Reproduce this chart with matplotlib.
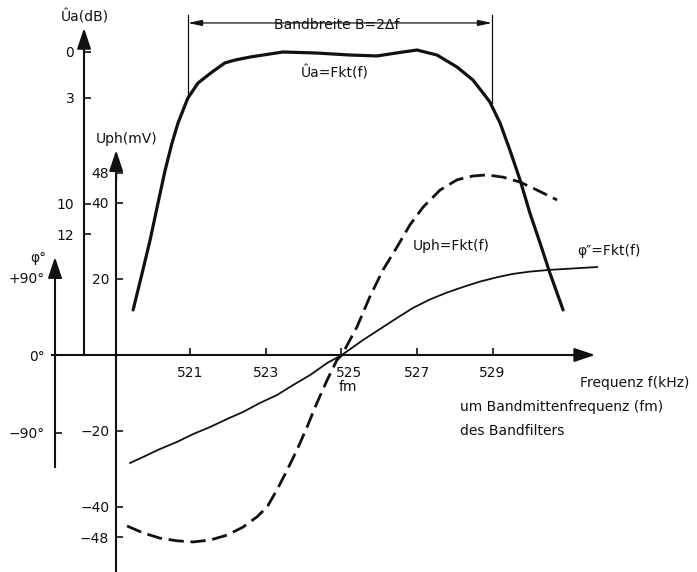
import matplotlib
matplotlib.use("Agg")
import matplotlib.pyplot as plt

# Ausgangsspannung Ua in dB (Daempfung gegenueber Maximum)
ua_f = [519.48, 519.72, 519.93, 520.14, 520.33, 520.51, 520.67, 520.93, 521.20,
        521.57, 521.91, 522.18, 522.58, 523.45, 524.35, 525.23, 525.94, 526.63,
        527.00, 527.53, 528.06, 528.48, 528.75, 528.93, 529.20, 529.46, 529.73,
        529.99, 530.26, 530.52, 530.87]
ua_db = [16.97, 14.54, 12.37, 9.93, 7.76, 5.99, 4.67, 3.03, 2.04,
         1.32, 0.72, 0.53, 0.33, 0.0, 0.07, 0.2, 0.26, 0.0,
         -0.13, 0.2, 0.99, 1.84, 2.70, 3.29, 4.67, 6.45, 8.42,
         10.59, 12.57, 14.54, 16.97]

# Phasendiskriminator-Spannung Uph in mV
uph_f = [519.32, 519.74, 520.19, 520.64, 521.07, 521.52, 521.97, 522.39, 522.76,
         523.03, 523.29, 523.56, 523.82, 524.09, 524.35, 524.62, 524.88, 525.01,
         525.41, 525.75, 526.10, 526.47, 526.81, 527.16, 527.61, 528.06, 528.48,
         528.85, 529.28, 529.73, 530.18, 530.71]
uph_mv = [-45.0, -46.8, -48.2, -48.9, -49.2, -48.7, -47.4, -45.3, -42.6,
          -40.0, -35.5, -30.3, -25.0, -18.9, -12.6, -6.6, -1.3, 0.0,
          7.4, 15.3, 22.4, 28.4, 34.2, 38.9, 43.4, 46.1, 47.1,
          47.4, 46.8, 45.5, 43.4, 40.8]

# Phasenwinkel phi in Grad
phi_f = [519.40, 519.74, 520.19, 520.64, 521.07, 521.52, 521.97, 522.39, 522.84,
         523.29, 523.72, 524.17, 524.62, 525.01, 525.57, 526.02, 526.47, 526.89,
         527.34, 527.79, 528.22, 528.67, 529.12, 529.54, 530.00, 530.52, 531.32, 531.77]
phi_deg = [-125.4, -118.5, -109.2, -101.0, -91.8, -83.6, -74.3, -66.2, -55.7,
           -46.5, -34.8, -23.2, -9.3, 0.0, 17.4, 30.2, 43.0, 54.6,
           64.5, 72.5, 79.0, 85.3, 90.3, 94.2, 96.9, 98.9, 101.0, 102.2]

f_ticks = [521, 523, 525, 527, 529]
mv_ticks = [-48, -40, -20, 20, 40, 48]
mv_labels = ["\u221248", "\u221240", "\u221220", "20", "40", "48"]
db_ticks = [0, 3, 10, 12]
deg_ticks = [-90, 0, 90]
deg_labels = ["\u221290\u00b0", "0\u00b0", "+90\u00b0"]

band_f = [520.93, 528.99]   # 3-dB-Punkte
band_db = [3.03, 3.36]

W, H = 697, 572
K = "#111111"
plt.rcParams["font.family"] = "DejaVu Sans"
plt.rcParams["font.size"] = 10

fig = plt.figure(figsize=(W / 100, H / 100), dpi=100)
fig.patch.set_facecolor("white")

ax = fig.add_axes([0, 0, 1, 1])
ax_db = ax.twinx()
ax_ph = ax.twinx()
for a in (ax, ax_db, ax_ph):
    a.set_position([0, 0, 1, 1])
    for s in a.spines.values():
        s.set_visible(False)
    a.set_xlim(515.954, 534.417)

ax.set_ylim(-57.11, 93.42)
ax_db.set_ylim(34.21, -3.42)
ax_ph.set_ylim(-252.0, 412.3)

# Uph-Achse
ax.spines["left"].set_visible(True)
ax.spines["left"].set_position(("data", 519.03))
ax.spines["left"].set_bounds(-57.11, 51.0)
ax.spines["bottom"].set_visible(True)
ax.spines["bottom"].set_position(("data", 0))
ax.spines["bottom"].set_bounds(517.33, 531.2)
ax.set_yticks(mv_ticks, mv_labels)
ax.set_xticks(f_ticks, [str(t) for t in f_ticks])
ax.tick_params(axis="y", direction="in", length=5, width=1.2, pad=5, colors=K)
ax.tick_params(axis="x", direction="in", length=5, width=1.2, pad=8, colors=K)
lab = ax.get_xticklabels()[2]
lab.set_transform(lab.get_transform() +
                  matplotlib.transforms.ScaledTranslation(8 / 100, 0, fig.dpi_scale_trans))

# Ua-Achse (dB)
ax_db.spines["left"].set_visible(True)
ax_db.spines["left"].set_position(("data", 518.18))
ax_db.spines["left"].set_bounds(-1.0, 19.93)
ax_db.yaxis.tick_left()
ax_db.set_yticks(db_ticks, [str(t) for t in db_ticks])
ax_db.tick_params(axis="y", direction="in", length=5, width=1.2, pad=7, colors=K)

# Phasen-Achse
ax_ph.spines["left"].set_visible(True)
ax_ph.spines["left"].set_position(("data", 517.41))
ax_ph.spines["left"].set_bounds(-130.0, 105.0)
ax_ph.yaxis.tick_left()
ax_ph.set_yticks(deg_ticks, deg_labels)
ax_ph.tick_params(axis="y", direction="in", length=5, width=1.2, pad=7, colors=K)

for a in (ax, ax_db, ax_ph):
    for s in a.spines.values():
        s.set_linewidth(1.5)
        s.set_color(K)

# Pfeilspitzen
arrow = dict(arrowstyle="-|>,head_length=0.9,head_width=0.3", color=K, lw=1.5,
             shrinkA=0, shrinkB=0, mutation_scale=14)
ax.annotate("", xy=(519.03, 53.9), xytext=(519.03, 46.0), arrowprops=arrow)
ax_db.annotate("", xy=(518.18, -1.58), xytext=(518.18, 0.0), arrowprops=arrow)
ax_ph.annotate("", xy=(517.41, 113.8), xytext=(517.41, 96.0), arrowprops=arrow)
ax.annotate("", xy=(531.72, 0), xytext=(531.0, 0), arrowprops=arrow)

# Kurven
ax_db.plot(ua_f, ua_db, color=K, lw=2.3, solid_capstyle="round", solid_joinstyle="round")
ax.plot(uph_f, uph_mv, color=K, lw=2.0, dashes=(5.5, 2.4))
ax_ph.plot(phi_f, phi_deg, color=K, lw=1.3, solid_joinstyle="round")

# Bandbreite
for bf, bd in zip(band_f, band_db):
    ax_db.plot([bf, bf], [bd, -2.45], color=K, lw=0.9)
ax_db.annotate("", xy=(band_f[0], -1.91), xytext=(band_f[1], -1.91),
               arrowprops=dict(arrowstyle="<|-|>,head_length=0.7,head_width=0.15",
                               color=K, lw=0.9, shrinkA=0, shrinkB=0, mutation_scale=12))


def txt(px, py, s, ha="left", **kw):
    ax.text(px / W, 1 - py / H, s, transform=ax.transAxes, ha=ha, va="center",
            color=K, **kw)


txt(337, 25, "Bandbreite B=2\u0394f", ha="center",
    bbox=dict(facecolor="white", edgecolor="none", pad=3))
txt(85, 17, "\u00dba(dB)", ha="center")
txt(127, 139, "Uph(mV)", ha="center")
txt(38, 258, "\u03c6\u00b0", ha="center")
txt(335, 73, "\u00dba=Fkt(f)", ha="center")
txt(413, 246, "Uph=Fkt(f)")
txt(577, 251, "\u03c6\u2033=Fkt(f)")
txt(348, 387, "fm", ha="center")
txt(580, 383, "Frequenz f(kHz)")
txt(460, 407, "um Bandmittenfrequenz (fm)")
txt(460, 431, "des Bandfilters")

fig.savefig("out.png", dpi=100, facecolor="white")
